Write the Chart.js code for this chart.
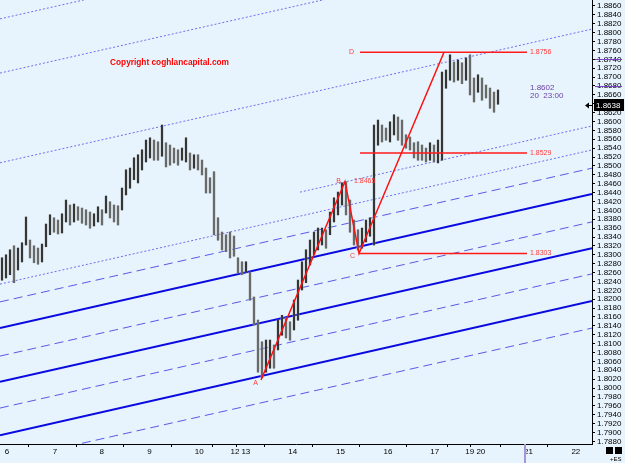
<!DOCTYPE html>
<html>
<head>
<meta charset="utf-8">
<script src="https://cdn.jsdelivr.net/npm/chart.js@4.4.1/dist/chart.umd.min.js"></script>
<style>
  html, body { margin: 0; padding: 0; background: #e7f4fd; }
  #grafico { display: block; }
</style>
</head>
<body>
<canvas id="grafico" width="625" height="463"></canvas>
<script>
// eixo x: posição dos dias (em barras de ~1h) e rótulos
const rotulosDias = ["6", "7", "8", "9", "10", "12", "13", "14", "15", "16", "17", "19", "20", "21", "22"];
const posDias = [2.4, 26.4, 49.7, 73.6, 97.4, 115.3, 120.7, 144.1, 168, 191.8, 215.1, 232.6, 238.2, 262, 285.7];

// barras (uma a cada 2 horas): máximos e mínimos
const maximos = [
  1.8293, 1.8300, 1.8311, 1.8320, 1.8315, 1.8327, 1.8385, 1.8333, 1.8320, 1.8315,
  1.8324, 1.8369, 1.8390, 1.8383, 1.8378, 1.8392, 1.8423, 1.8412, 1.8414, 1.8408,
  1.8405, 1.8401, 1.8396, 1.8392, 1.8408, 1.8401, 1.8432, 1.8419, 1.8412, 1.8410,
  1.8450, 1.8491, 1.8495, 1.8518, 1.8525, 1.8536, 1.8558, 1.8563, 1.8558, 1.8554,
  1.8592, 1.8552, 1.8547, 1.8540, 1.8536, 1.8540, 1.8563, 1.8529, 1.8525, 1.8525,
  1.8513, 1.8495, 1.8473, 1.8487, 1.8383, 1.8351, 1.8345, 1.8351, 1.8342, 1.8293,
  1.8284, 1.8284, 1.8261, 1.8205, 1.8153, 1.8104, 1.8108, 1.8108, 1.8097, 1.8153,
  1.8164, 1.8158, 1.8149, 1.8198, 1.8243, 1.8284, 1.8311, 1.8333, 1.8351, 1.8360,
  1.8360, 1.8356, 1.8396, 1.8428, 1.8441, 1.8462, 1.8464, 1.8423, 1.8378, 1.8356,
  1.8360, 1.8378, 1.8383, 1.8592, 1.8603, 1.8592, 1.8585, 1.8599, 1.8615, 1.8610,
  1.8603, 1.8570, 1.8565, 1.8552, 1.8554, 1.8547, 1.8540, 1.8552, 1.8547, 1.8558,
  1.8711, 1.8716, 1.8750, 1.8734, 1.8738, 1.8732, 1.8743, 1.8750, 1.8698, 1.8705,
  1.8698, 1.8682, 1.8675, 1.8666, 1.8671
];
const minimos = [
  1.8243, 1.8248, 1.8255, 1.8237, 1.8266, 1.8284, 1.8322, 1.8293, 1.8282, 1.8279,
  1.8284, 1.8318, 1.8345, 1.8351, 1.8347, 1.8349, 1.8374, 1.8367, 1.8374, 1.8378,
  1.8371, 1.8367, 1.8360, 1.8365, 1.8374, 1.8367, 1.8394, 1.8383, 1.8374, 1.8367,
  1.8401, 1.8435, 1.8450, 1.8469, 1.8462, 1.8491, 1.8509, 1.8518, 1.8513, 1.8513,
  1.8522, 1.8498, 1.8502, 1.8507, 1.8502, 1.8513, 1.8509, 1.8491, 1.8495, 1.8491,
  1.8480, 1.8439, 1.8439, 1.8345, 1.8333, 1.8311, 1.8307, 1.8293, 1.8297, 1.8259,
  1.8255, 1.8261, 1.8198, 1.8142, 1.8036, 1.8023, 1.8036, 1.8045, 1.8045, 1.8086,
  1.8119, 1.8113, 1.8108, 1.8131, 1.8153, 1.8221, 1.8237, 1.8277, 1.8300, 1.8311,
  1.8322, 1.8315, 1.8345, 1.8374, 1.8390, 1.8412, 1.8390, 1.8351, 1.8322, 1.8311,
  1.8315, 1.8329, 1.8342, 1.8322, 1.8547, 1.8554, 1.8558, 1.8554, 1.8570, 1.8558,
  1.8547, 1.8540, 1.8536, 1.8518, 1.8513, 1.8513, 1.8509, 1.8513, 1.8509, 1.8507,
  1.8513, 1.8675, 1.8693, 1.8689, 1.8693, 1.8685, 1.8693, 1.8660, 1.8644, 1.8666,
  1.8648, 1.8653, 1.8630, 1.8621, 1.8639
];

// linhas do canal: preço no início (x=0) e no fim (x=296)
const pontilhadaInicio = [1.8831, 1.8709, 1.8507, 1.8234];
const pontilhadaFim = [1.9132, 1.9011, 1.8808, 1.8536];
const tracejadaInicio = [1.8194, 1.8072, 1.7955, 1.7834];
const tracejadaFim = [1.8495, 1.8374, 1.8257, 1.8135];
const cheiaInicio = [1.8135, 1.8014, 1.7894];
const cheiaFim = [1.8437, 1.8315, 1.8196];
// pontilhada que começa no meio do gráfico
const pontilhadaMeioX = [150, 296];
const pontilhadaMeioY = [1.8441, 1.8590];

// padrão ABCD e níveis
const abcdNomes = ["A", "B", "C", "D"];
const abcdX = [130.5, 172.5, 179.5, 222];
const abcdY = [1.8018, 1.8465, 1.8303, 1.8756];
const niveis = [1.8756, 1.8529, 1.8303];
const niveisInicio = [180, 180, 179.5];
const niveisFim = 263.5;

const ultimoPreco = 1.8638;
const marcasEixo = [1.8740, 1.8680];

const X_MAX = 296;
const Y_MIN = 1.78741;
const Y_MAX = 1.88735;

function linha(x0, y0, x1, y1, cor, largura, tracos, ordem) {
  return {
    type: "line",
    data: [{ x: x0, y: y0 }, { x: x1, y: y1 }],
    borderColor: cor,
    borderWidth: largura,
    borderDash: tracos,
    pointRadius: 0,
    order: ordem,
  };
}

function montarDatasets() {
  const barX = maximos.map((_, i) => 1 + 2 * i);
  const barras = barX.map((x, i) => ({ x: x, y: [minimos[i], maximos[i]] }));
  const coresFinas = barX.map((_, i) => {
    const meio = (maximos[i] + minimos[i]) / 2;
    const antes = i > 0 ? (maximos[i - 1] + minimos[i - 1]) / 2 : meio;
    return meio >= antes ? "#1e1e1e" : "#5c5c5c";
  });

  const ds = [];
  pontilhadaInicio.forEach((v, i) => ds.push(linha(0, v, X_MAX, pontilhadaFim[i], "#6f6ff0", 1, [2, 2], 5)));
  ds.push(linha(pontilhadaMeioX[0], pontilhadaMeioY[0], pontilhadaMeioX[1], pontilhadaMeioY[1], "#6f6ff0", 1, [2, 2], 5));
  tracejadaInicio.forEach((v, i) => ds.push(linha(0, v, X_MAX, tracejadaFim[i], "#5a5ae6", 1, [9, 5], 5)));
  cheiaInicio.forEach((v, i) => ds.push(linha(0, v, X_MAX, cheiaFim[i], "#0a0ae0", 2, [], 5)));

  ds.push({
    type: "bar",
    data: barras,
    backgroundColor: "#a9abad",
    barThickness: 2,
    grouped: false,
    order: 3,
  });
  ds.push({
    type: "bar",
    data: barras,
    backgroundColor: coresFinas,
    barThickness: 1,
    grouped: false,
    order: 2,
  });

  ds.push({
    type: "line",
    data: abcdX.map((x, i) => ({ x: x, y: abcdY[i] })),
    borderColor: "#ff1010",
    borderWidth: 1.5,
    pointRadius: 0,
    order: 1,
  });
  niveis.forEach((v, i) => ds.push(linha(niveisInicio[i], v, niveisFim, v, "#ff1a1a", 1.6, [], 1)));
  return ds;
}

const anotacoes = {
  id: "anotacoes",
  beforeDraw(chart) {
    const ctx = chart.ctx;
    ctx.save();
    ctx.fillStyle = "#e7f4fd";
    ctx.fillRect(0, 0, chart.width, chart.height);
    ctx.restore();
  },
  afterDatasetsDraw(chart) {
    const { ctx, scales } = chart;
    const px = (v) => scales.x.getPixelForValue(v);
    const py = (v) => scales.y.getPixelForValue(v);
    ctx.save();
    ctx.textBaseline = "middle";

    ctx.font = "bold 8.3px 'Liberation Sans', Arial, sans-serif";
    ctx.fillStyle = "#ff0000";
    ctx.fillText("Copyright coghlancapital.com", 110, 63);

    ctx.font = "7px 'Liberation Sans', Arial, sans-serif";
    ctx.fillStyle = "#ff3c3c";
    ctx.textAlign = "right";
    ctx.fillText(abcdNomes[0], px(abcdX[0]) - 3, py(abcdY[0]) + 3);
    ctx.fillText(abcdNomes[1], px(abcdX[1]) - 4, py(abcdY[1]));
    ctx.fillText(abcdNomes[2], px(abcdX[2]) - 4, py(abcdY[2]) + 3);
    ctx.fillText(abcdNomes[3], px(niveisInicio[0]) - 6, py(abcdY[3]));
    ctx.textAlign = "left";
    ctx.fillText(abcdY[1].toFixed(4), px(abcdX[1]) + 9, py(abcdY[1]));
    niveis.forEach((v) => ctx.fillText(v.toFixed(4), px(niveisFim) + 3, py(v)));

    ctx.font = "8px 'Liberation Sans', Arial, sans-serif";
    ctx.fillStyle = "#6a3ea6";
    ctx.fillText("1.8602", 530, 88);
    ctx.fillText("20  23:00", 530, 96);
    ctx.restore();
  },
  afterDraw(chart) {
    const { ctx, scales, chartArea } = chart;
    const yy = Math.round(scales.y.getPixelForValue(ultimoPreco));
    const dir = chartArea.right;
    ctx.save();

    ctx.strokeStyle = "#7a40c8";
    ctx.lineWidth = 1;
    marcasEixo.forEach((v) => {
      const m = Math.round(scales.y.getPixelForValue(v)) + 0.5;
      ctx.beginPath();
      ctx.moveTo(dir + 3, m);
      ctx.lineTo(dir + 30, m);
      ctx.stroke();
    });

    ctx.fillStyle = "#000";
    ctx.fillRect(dir + 2, yy - 6, 30, 12);
    ctx.beginPath();
    ctx.moveTo(dir - 7, yy + 0.5);
    ctx.lineTo(dir - 3, yy - 2.5);
    ctx.lineTo(dir - 3, yy + 3.5);
    ctx.closePath();
    ctx.fill();
    ctx.fillRect(dir - 3, yy, 4, 1);
    ctx.fillStyle = "#fff";
    ctx.font = "8px 'Liberation Sans', Arial, sans-serif";
    ctx.textBaseline = "middle";
    ctx.fillText(ultimoPreco.toFixed(4), dir + 4, yy + 0.5);

    ctx.strokeStyle = "#a596d8";
    ctx.lineWidth = 2;
    ctx.beginPath();
    ctx.moveTo(525, chartArea.bottom);
    ctx.lineTo(525, chart.height);
    ctx.stroke();

    ctx.fillStyle = "#000";
    ctx.fillRect(606, 447, 7, 7);
    ctx.fillRect(615, 447, 7, 7);
    ctx.font = "6px 'Liberation Sans', Arial, sans-serif";
    ctx.fillText("+ES", 610, 459);
    ctx.restore();
  },
};

function montarGrafico() {
  Chart.defaults.font.family = "'Liberation Sans', Arial, sans-serif";
  const ctx = document.getElementById("grafico").getContext("2d");
  new Chart(ctx, {
    type: "bar",
    data: { datasets: montarDatasets() },
    options: {
      responsive: false,
      animation: false,
      devicePixelRatio: 1,
      layout: { padding: 0 },
      plugins: { legend: { display: false }, tooltip: { enabled: false } },
      scales: {
        x: {
          type: "linear",
          min: 0,
          max: X_MAX,
          offset: false,
          border: { color: "#000", width: 1 },
          grid: { drawOnChartArea: false, tickLength: 3, color: "#000" },
          afterBuildTicks: (s) => { s.ticks = posDias.map((v) => ({ value: v })); },
          ticks: {
            align: "start",
            autoSkip: false,
            maxRotation: 0,
            padding: 0,
            color: "#000",
            font: { size: 8 },
            callback: (v, i) => rotulosDias[i],
          },
          afterFit: (s) => { s.height = 19; s.paddingLeft = 0; s.paddingRight = 0; },
        },
        y: {
          position: "right",
          min: Y_MIN,
          max: Y_MAX,
          border: { color: "#000", width: 1 },
          grid: { drawOnChartArea: false, tickLength: 3, color: "#000" },
          afterBuildTicks: (s) => {
            const t = [];
            for (let k = 0; k <= 49; k++) t.push({ value: 1.788 + k * 0.002 });
            s.ticks = t;
          },
          ticks: {
            autoSkip: false,
            padding: 2,
            color: "#000",
            font: { size: 8 },
            callback: (v) => v.toFixed(4),
          },
          afterFit: (s) => { s.width = 33; s.paddingTop = 0; s.paddingBottom = 0; },
        },
      },
    },
    plugins: [anotacoes],
  });
}

document.addEventListener("DOMContentLoaded", montarGrafico);
</script>
</body>
</html>
